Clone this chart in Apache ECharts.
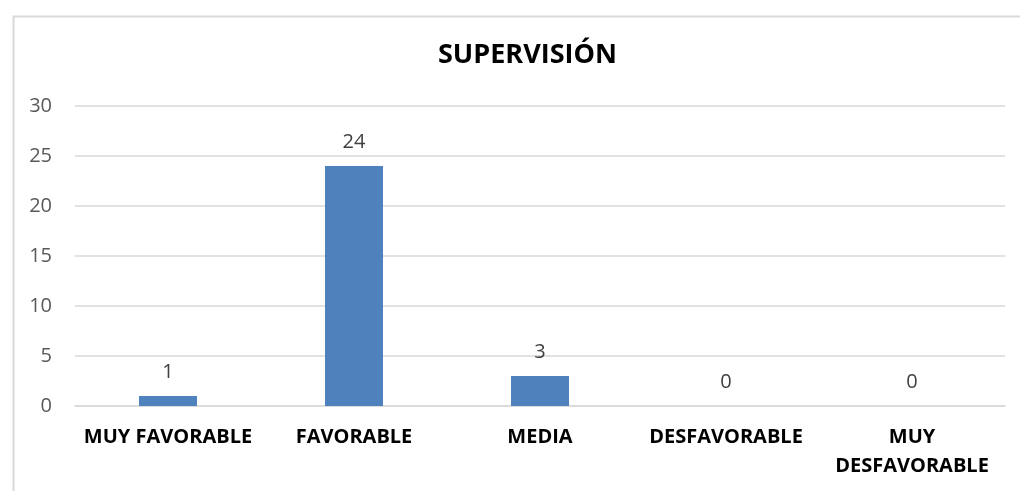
<!DOCTYPE html>
<html><head><meta charset="utf-8">
<script src="https://cdn.jsdelivr.net/npm/echarts@6/dist/echarts.min.js"></script>
<style>html,body{margin:0;padding:0;background:#fff}#c{width:1020px;height:491px}</style>
</head><body><div id="c"></div>
<script>
const categories = ['MUY FAVORABLE', 'FAVORABLE', 'MEDIA', 'DESFAVORABLE', 'MUY\nDESFAVORABLE'];
const values = [1, 24, 3, 0, 0];
const titleText = 'SUPERVISIÓN';

const chart = echarts.init(document.getElementById('c'), null, {renderer: 'canvas'});
chart.setOption({
  animation: false,
  backgroundColor: '#ffffff',
  graphic: [{
    type: 'rect', left: 11, top: 14,
    shape: {width: 1030, height: 500},
    style: {fill: 'none', stroke: '#d9d9d9', lineWidth: 2},
    silent: true
  }],
  title: {
    text: titleText, left: 433, top: 37,
    textStyle: {fontFamily: 'Open Sans', fontWeight: 'bold', fontSize: 27, color: '#000'}
  },
  grid: {left: 75, right: 15, top: 106, bottom: 85},
  xAxis: {
    type: 'category', data: categories,
    axisLine: {show: true, lineStyle: {color: '#d9d9d9', width: 1.5}},
    axisTick: {show: false},
    axisLabel: {
      interval: 0, margin: 17, color: '#000', fontWeight: 'bold',
      fontFamily: 'Open Sans', fontSize: 20, lineHeight: 29
    }
  },
  yAxis: {
    type: 'value', min: 0, max: 30, interval: 5,
    axisLine: {show: false}, axisTick: {show: false},
    splitLine: {lineStyle: {color: '#d9d9d9', width: 1.5}},
    axisLabel: {color: '#595959', fontFamily: 'Open Sans', fontSize: 20, margin: 23}
  },
  series: [{
    type: 'bar', data: values, barWidth: 58,
    itemStyle: {color: '#4f81bd'},
    label: {show: true, position: 'top', distance: 14, color: '#404040', fontFamily: 'Open Sans', fontSize: 20}
  }]
});
</script></body></html>
